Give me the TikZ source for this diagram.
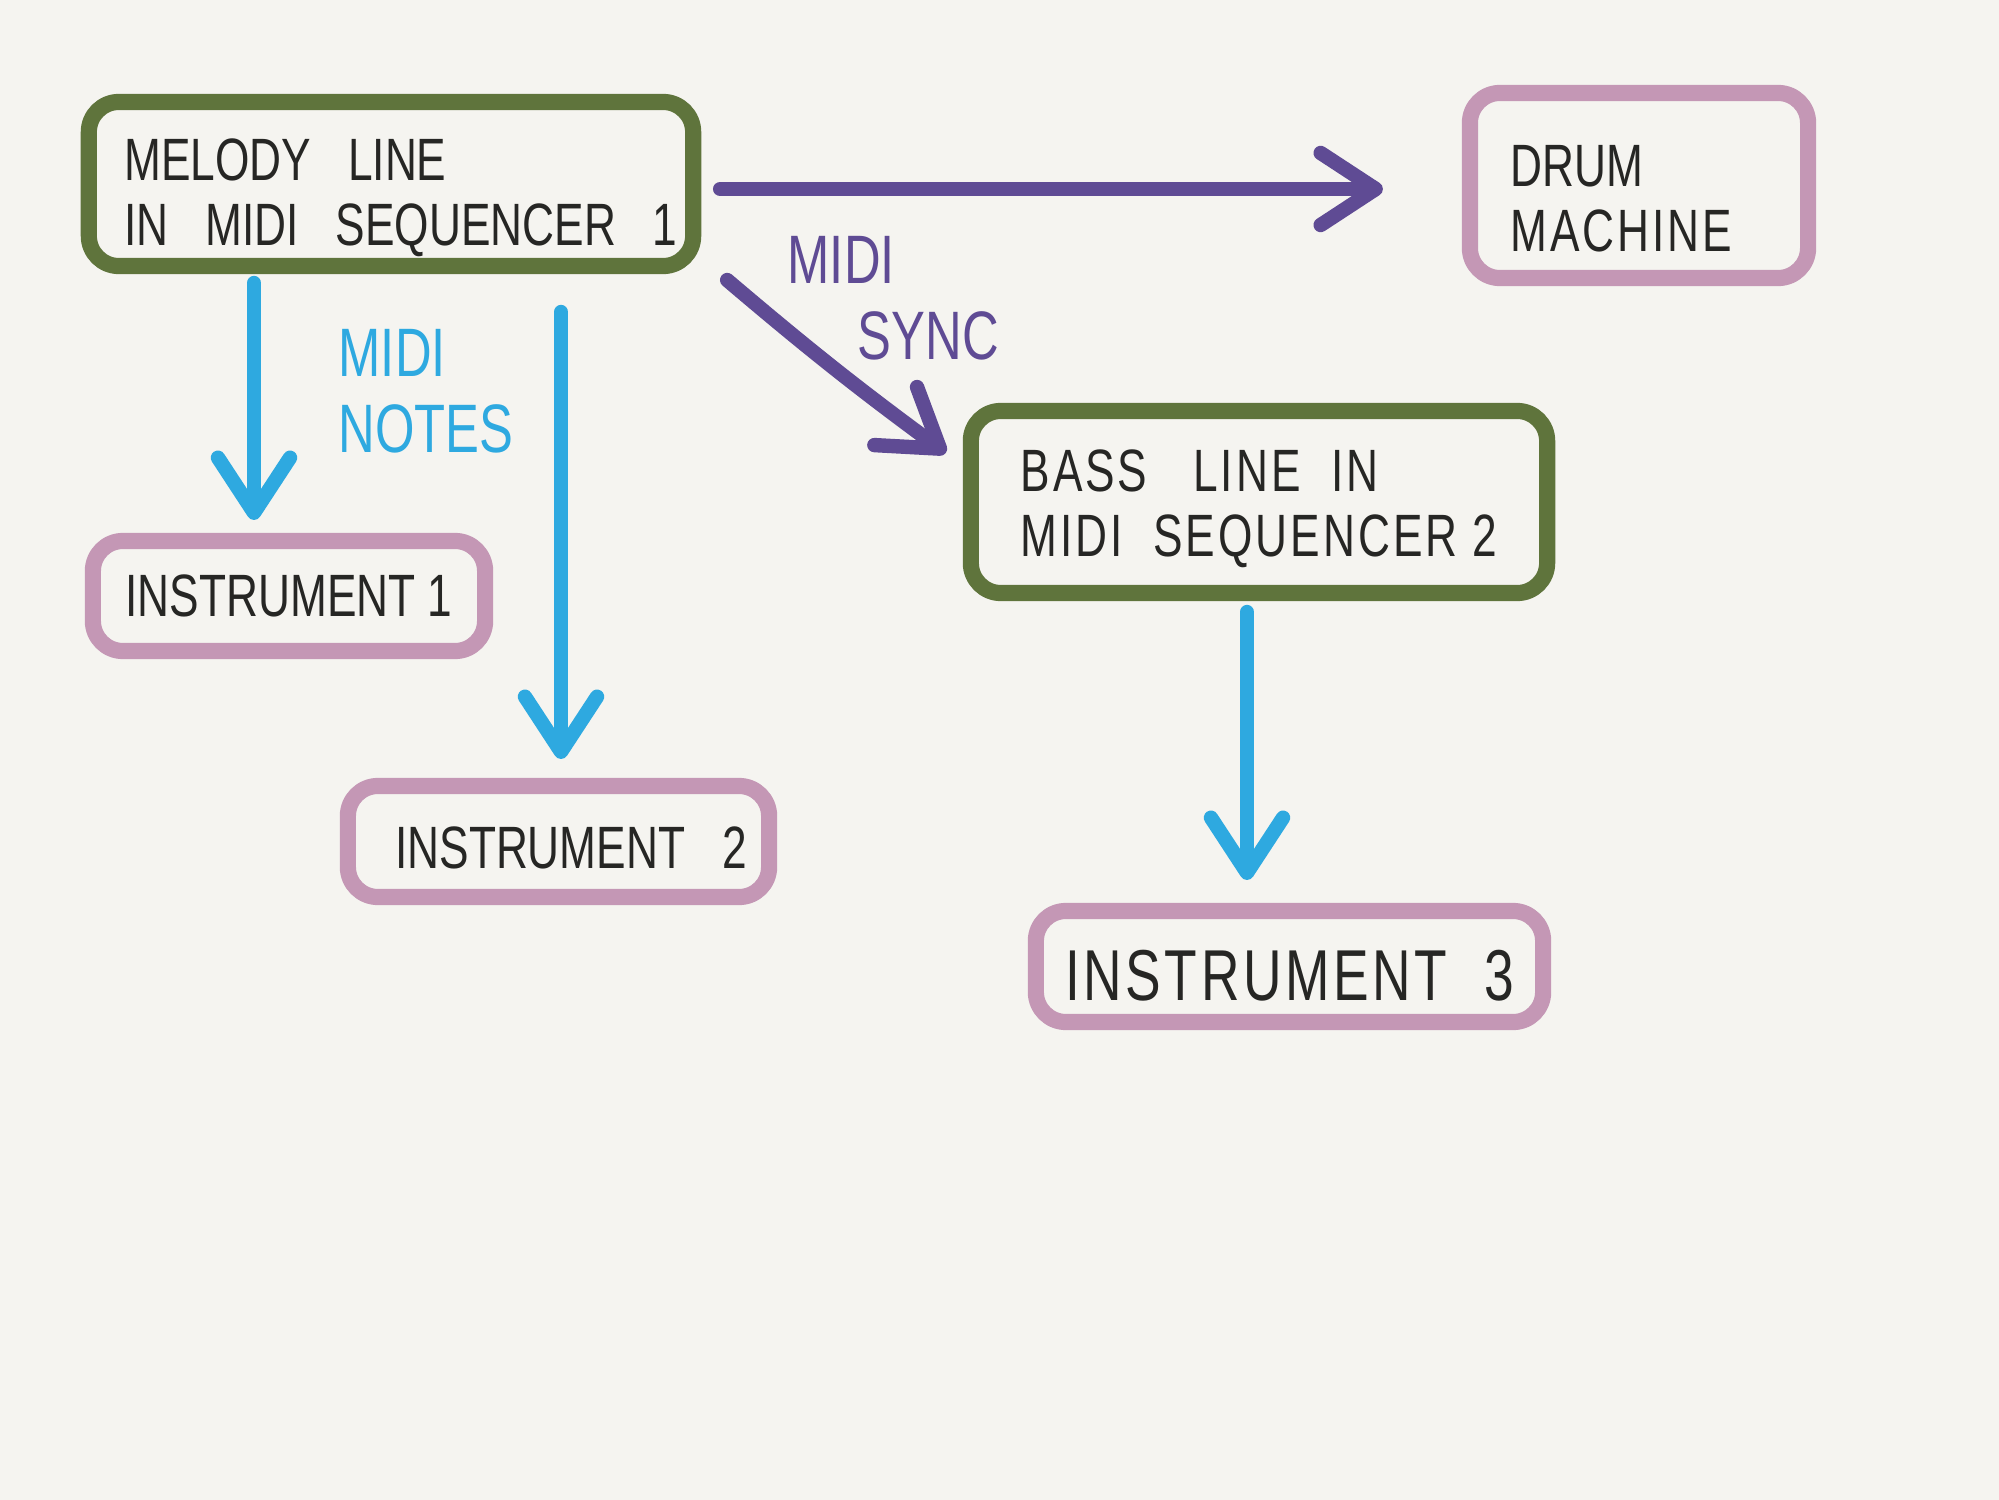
\documentclass[tikz,border=0pt]{standalone}
\usepackage{fontspec}
\newfontfamily\hand[FakeStretch=0.74]{Liberation Sans}
\newfontfamily\handw[FakeStretch=0.74, LetterSpace=5]{Liberation Sans}
\usetikzlibrary{arrows.meta,calc}
\definecolor{bgc}{HTML}{F5F4F0}
\definecolor{seqgreen}{HTML}{5F743C}
\definecolor{instpink}{HTML}{C497B5}
\definecolor{syncpurple}{HTML}{5F4B94}
\definecolor{notecyan}{HTML}{2EA9E0}
\definecolor{inkc}{HTML}{262624}
\newcommand{\upstrut}[1]{\rule{0pt}{#1}}
\tikzset{
  box/.style={draw, line width=4.6pt, rounded corners=0.3cm, outer sep=0pt,
    inner sep=0pt, align=left, text=inkc, font=\hand\fontsize{17}{18.5}\selectfont},
  seqbox/.style={box, draw=seqgreen},
  instbox/.style={box, draw=instpink},
  conn/.style={line width=4.1pt, line cap=round, line join=round,
    -{Straight Barb[length=0.55cm, width=0.72cm, round]}},
  notearrow/.style={conn, draw=notecyan},
  syncarrow/.style={conn, draw=syncpurple},
  lbl/.style={align=left, inner sep=0pt, anchor=north west, font=\hand\fontsize{19.5}{21.5}\selectfont}
}
\begin{document}
\begin{tikzpicture}[x=0.01cm, y=-0.01cm]
\fill[bgc] (0,0) rectangle (1999,1500);
\useasboundingbox (0,0) rectangle (1999,1500);

\node[seqbox, minimum width=6.04cm, minimum height=1.64cm] (mel) at (391,184)
  {\hspace*{0.2cm}\upstrut{0.7cm}MELODY\ \ \ LINE\\\hspace*{0.2cm}IN\ \ \ MIDI\ \ \ SEQUENCER\ \ \ 1};
\node[instbox, minimum width=3.38cm, minimum height=1.85cm] (drum) at (1639,185.5)
  {\upstrut{0.68cm}DRUM\\\handw MACHINE\hspace*{0.35cm}};
\node[instbox, minimum width=3.92cm, minimum height=1.10cm] (i1) at (289,596)
  {INSTRUMENT 1};
\node[instbox, minimum width=4.21cm, minimum height=1.11cm] (i2) at (558.5,841.5)
  {\hspace*{0.25cm}\upstrut{0.55cm}INSTRUMENT\ \ \ 2};
\node[seqbox, minimum width=5.76cm, minimum height=1.82cm, font=\handw\fontsize{17}{18.5}\selectfont] (bass) at (1259,502)
  {\upstrut{0.55cm}BASS\ \ \ LINE\ \ IN\\MIDI\ \ SEQUENCER 2};
\node[instbox, minimum width=5.07cm, minimum height=1.11cm, font=\handw\fontsize{20.5}{21}\selectfont] (i3) at (1289.5,966.5)
  {\upstrut{0.68cm}INSTRUMENT\ \ 3};

\node[lbl, text=notecyan] (notes) at (338,329) {MIDI\\NOTES};
\node[lbl, text=syncpurple] (sync) at (787,236) {MIDI\\\hspace*{0.7cm}SYNC};

\draw[notearrow] ($(mel.south)+(-137,17)$) -- ($(i1.north)+(-35,-21)$);
\draw[notearrow] ($(mel.south)+(170,46)$) -- ($(i2.north)+(2.5,-27)$);
\draw[notearrow] ($(bass.south)+(-12,19)$) -- ($(i3.north)+(-42.5,-31)$);
\draw[syncarrow] ($(mel.east)+(27,5)$) -- ($(drum.west)+(-87,3.5)$);
\draw[syncarrow] ($(mel.south east)+(34,14)$) to[bend right=2] ($(bass.north west)+(-25,42)$);
\end{tikzpicture}
\end{document}
